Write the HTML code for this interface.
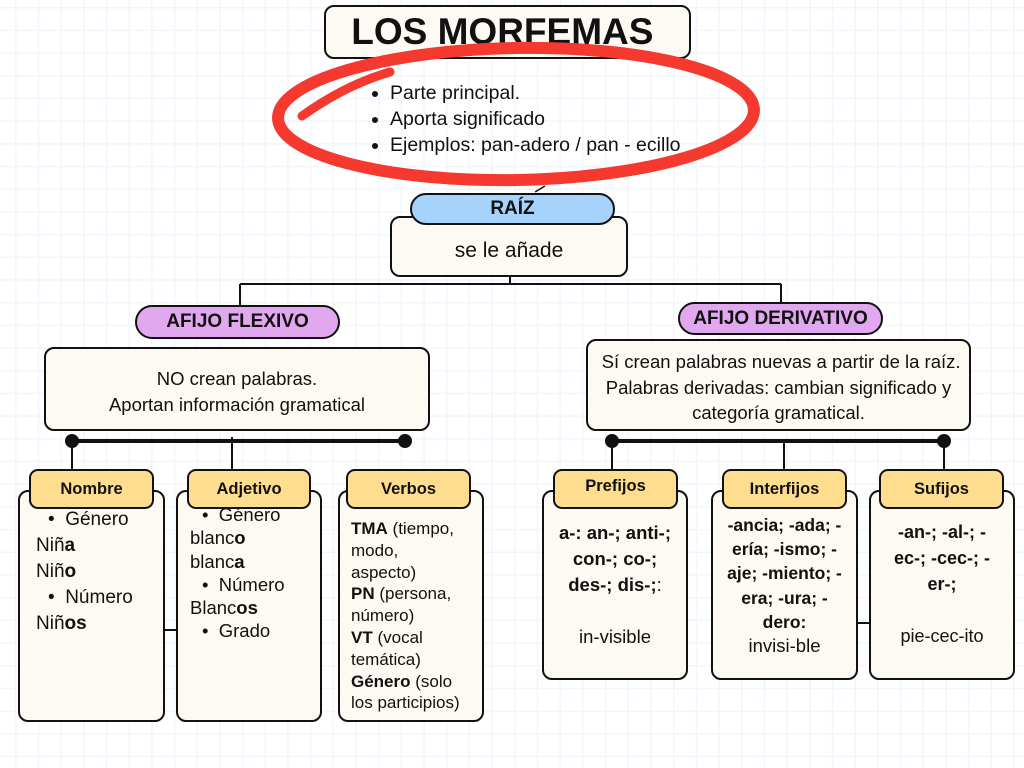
<!DOCTYPE html>
<html><head><meta charset="utf-8"><style>
html,body{margin:0;padding:0}
body{width:1024px;height:768px;position:relative;overflow:hidden;font-family:"Liberation Sans","DejaVu Sans",sans-serif;color:#111;
background-color:#fff;
background-image:linear-gradient(to right,#f1f6fc 1.5px,transparent 1.5px),linear-gradient(to bottom,#f1f6fc 1.5px,transparent 1.5px);
background-size:22.7px 22.7px;background-position:15px 7px;}
.b{position:absolute;box-sizing:border-box;border:2px solid #111;background:#fcfaf2;border-radius:10px}
.h{position:absolute;box-sizing:border-box;border:2px solid #111;background:#fedd8f;border-radius:9px;font-weight:bold;font-size:16.5px;text-align:center;display:flex;align-items:center;justify-content:center}
.p{position:absolute;box-sizing:border-box;border:2px solid #111;border-radius:18px;font-weight:bold;text-align:center;display:flex;align-items:center;justify-content:center}
.t{position:absolute;font-size:18.5px;line-height:25.5px}
.c{text-align:center}
svg{position:absolute;left:0;top:0}
ul{margin:0;padding-left:22px}
</style></head><body>
<div class="b" style="left:324px;top:5px;width:367px;height:54px;"></div>
<div style="position:absolute;left:324px;top:5px;width:367px;height:54px;font-weight:bold;font-size:37px;line-height:54px;text-align:center;">LOS MORFEMAS&nbsp;</div>

<div class="t" style="left:368px;top:80px;font-size:19.5px;line-height:26px">
<ul><li>Parte principal.</li><li>Aporta significado</li><li>Ejemplos: pan-adero / pan - ecillo</li></ul></div>

<div class="b" style="left:390px;top:216px;width:238px;height:61px;"></div>
<div class="t c" style="left:390px;top:238px;width:238px;font-size:21px">se le añade</div>
<div class="p" style="left:410px;top:193px;width:205px;height:32px;background:#a5d3fb;font-size:19px">RAÍZ</div>

<div class="b" style="left:44px;top:347px;width:386px;height:84px;"></div>
<div class="t c" style="left:44px;top:366px;width:386px">NO crean palabras.<br>Aportan información gramatical</div>
<div class="p" style="left:135px;top:305px;width:205px;height:34px;background:#e2a8ef;font-size:19px">AFIJO FLEXIVO</div>

<div class="b" style="left:586px;top:339px;width:385px;height:92px;"></div>
<div class="t c" style="left:586px;top:349px;width:385px">&nbsp;Sí crean palabras nuevas a partir de la raíz.<br>Palabras derivadas: cambian significado y<br>categoría gramatical.</div>
<div class="p" style="left:678px;top:302px;width:205px;height:33px;background:#e2a8ef;font-size:19px">AFIJO DERIVATIVO</div>

<svg width="1024" height="768">
<ellipse cx="516" cy="114" rx="238" ry="66" fill="none" stroke="#f5392f" stroke-width="12" transform="rotate(-1 516 114)"/>
<path d="M302 116 Q345 85 390 72" fill="none" stroke="#f5392f" stroke-width="9" stroke-linecap="round"/>
<path d="M535 192 L545 186" stroke="#111" stroke-width="1.5"/>
<g stroke="#111" stroke-width="2" fill="none">
<path d="M510 276 V284 M240 284 H781 M240 284 V306 M781 284 V302"/>
<path d="M72 441 V470 M232 437 V470 M612 441 V470 M784 441 V470 M944 441 V470"/>
<path d="M164 630 H176 M857 623 H869"/>
</g>
<path d="M72 441 H405 M612 441 H944" stroke="#111" stroke-width="4"/>
<g fill="#111"><circle cx="72" cy="441" r="7"/><circle cx="405" cy="441" r="7"/><circle cx="612" cy="441" r="7"/><circle cx="944" cy="441" r="7"/></g>
</svg>

<div class="b" style="left:18px;top:490px;width:147px;height:232px;"></div>
<div class="b" style="left:176px;top:490px;width:146px;height:232px;"></div>
<div class="b" style="left:338px;top:490px;width:146px;height:232px;"></div>
<div class="h" style="left:29px;top:469px;width:125px;height:40px">Nombre</div>
<div class="h" style="left:187px;top:469px;width:124px;height:40px">Adjetivo</div>
<div class="h" style="left:346px;top:469px;width:125px;height:40px">Verbos</div>

<div class="t" style="left:36px;top:507px;font-size:19px;line-height:26px">
<span style="margin-left:12px">•&nbsp;&nbsp;Género</span><br>Niñ<b>a</b><br>Niñ<b>o</b><br><span style="margin-left:12px">•&nbsp;&nbsp;Número</span><br>Niñ<b>os</b></div>
<div class="t" style="left:190px;top:503px;font-size:18.5px;line-height:23.3px">
<span style="margin-left:12px">•&nbsp;&nbsp;Género</span><br>blanc<b>o</b><br>blanc<b>a</b><br><span style="margin-left:12px">•&nbsp;&nbsp;Número</span><br>Blanc<b>os</b><br><span style="margin-left:12px">•&nbsp;&nbsp;Grado</span></div>
<div class="t" style="left:351px;top:518px;font-size:17px;line-height:21.8px">
<b>TMA</b> (tiempo,<br>modo,<br>aspecto)<br><b>PN</b> (persona,<br>número)<br><b>VT</b> (vocal<br>temática)<br><b>Género</b> (solo<br>los participios)</div>

<div class="b" style="left:542px;top:490px;width:146px;height:190px;"></div>
<div class="b" style="left:711px;top:490px;width:147px;height:190px;"></div>
<div class="b" style="left:869px;top:490px;width:146px;height:190px;"></div>
<div class="h" style="left:553px;top:469px;width:125px;height:40px;padding-bottom:6px">Prefijos</div>
<div class="h" style="left:722px;top:469px;width:125px;height:40px">Interfijos</div>
<div class="h" style="left:879px;top:469px;width:125px;height:40px">Sufijos</div>

<div class="t c" style="left:542px;top:520px;width:146px;font-size:18.5px;line-height:26px"><b>a-: an-; anti-;<br>con-; co-;<br>des-; dis-;</b>:<br><br>in-visible</div>
<div class="t c" style="left:711px;top:513px;width:147px;font-size:17.5px;line-height:24.2px"><b>-ancia; -ada; -<br>ería; -ismo; -<br>aje; -miento; -<br>era; -ura; -<br>dero:</b><br><span style="font-size:18.5px">invisi-ble</span></div>
<div class="t c" style="left:869px;top:519px;width:146px;font-size:18px;line-height:26px"><b>-an-; -al-; -<br>ec-; -cec-; -<br>er-;</b><br><br>pie-cec-ito</div>
</body></html>
